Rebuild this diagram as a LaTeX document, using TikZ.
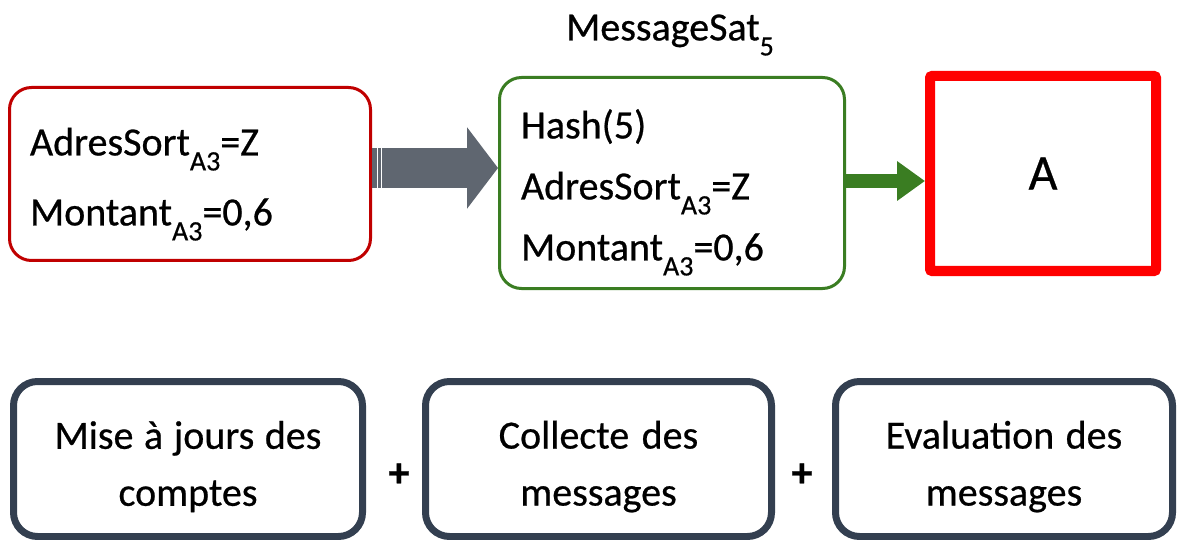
\documentclass[tikz,border=0pt]{standalone}
\usepackage{fontspec}
\setmainfont{Carlito}[FakeBold=0.6]
\usetikzlibrary{arrows.meta}
\definecolor{boxred}{HTML}{C00000}
\definecolor{boxgreen}{HTML}{3A7D22}
\definecolor{slate}{HTML}{333F50}
\definecolor{arrowgray}{HTML}{5F6670}
\newcommand{\sous}[1]{\raisebox{-15pt}{\fontsize{28}{28}\selectfont #1}}
\newcommand{\haut}[1]{\rule{0pt}{#1}}
\newcommand{\serre}{\spaceskip=0pt\relax\xspaceskip=0pt\relax}

\begin{document}
\begin{tikzpicture}[x=1pt,y=-1pt,
    msgbox/.style={draw,rounded corners=22pt,line width=3pt,inner ysep=0pt,align=left},
    stepbox/.style={draw=slate,rounded corners=24pt,line width=7pt,inner sep=0pt,minimum height=155pt,
      align=center,text width=320pt,font=\fontsize{40}{57}\selectfont},
    plus/.style={font=\bfseries\fontsize{42}{42}\selectfont,inner sep=0pt},
    bigarrow/.style={-{Triangle[length=31pt,width=80pt]},line width=40pt,arrowgray},
    smallarrow/.style={-{Triangle[length=28pt,width=38pt]},line width=14pt,boxgreen}]
  \useasboundingbox (0,0) rectangle (1181,540);
  \node[msgbox,draw=boxred,minimum height=173pt,text width=320pt,inner xsep=20.5pt,
    font=\fontsize{40}{70}\selectfont] (src) at (190,174)
    {\haut{48pt}AdresSort\sous{A3}=Z\\Montant\sous{A3}=0,6};
  \node[msgbox,draw=boxgreen,minimum height=211pt,text width=302pt,inner xsep=21.5pt,
    font=\fontsize{40}{61}\selectfont] (msg) at (672,183)
    {\haut{48pt}Hash(5)\\AdresSort\sous{A3}=Z\\Montant\sous{A3}=0,6};
  \node[font=\fontsize{40}{40}\selectfont] (title) at (670,35) {MessageSat\sous{5}};
  \node[draw=red,line width=10pt,rounded corners=2pt,minimum width=226pt,minimum height=195pt,
    font=\fontsize{50}{50}\selectfont] (ares) at (1043,173.5) {A};
  \coordinate (g1) at ([yshift=6pt]src.east);
  \coordinate (g2) at ([yshift=2pt]msg.east);
  \draw[bigarrow] (g1) -- (g1 -| msg.west);
  \draw[white,line width=1pt] ([xshift=5pt,yshift=20pt]g1) -- ([xshift=5pt,yshift=-20pt]g1);
  \draw[white,line width=1pt] ([xshift=9pt,yshift=20pt]g1) -- ([xshift=9pt,yshift=-20pt]g1);
  \draw[smallarrow] (g2) -- (g2 -| ares.west);
  \node[stepbox,minimum width=349pt] (maj) at (188,459) {\serre\haut{43pt}Mise à jours des\\comptes};
  \node[stepbox,minimum width=346pt] (coll) at (598.5,459) {\serre\haut{43pt}Collecte des\\messages};
  \node[stepbox,minimum width=337pt] (eval) at (1004,459) {\serre\haut{43pt}Evaluation des\\messages};
  \node[plus] (plus1) at (399,475) {+};
  \node[plus] (plus2) at (802,475) {+};
\end{tikzpicture}
\end{document}
